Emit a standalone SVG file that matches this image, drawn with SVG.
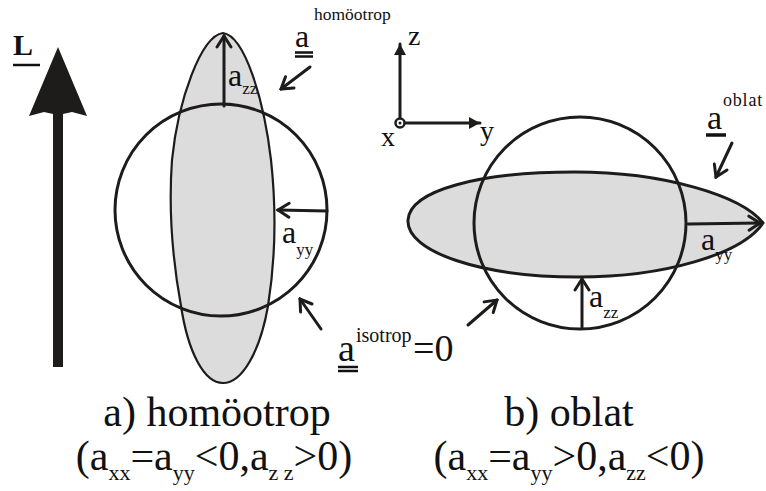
<svg xmlns="http://www.w3.org/2000/svg" width="766" height="491" viewBox="0 0 766 491">
<style>
text{font-family:'Liberation Serif','Times New Roman','DejaVu Serif',serif;fill:#111}
.ln{stroke:#1e1b1b;stroke-width:3;fill:none;stroke-linecap:round}
.ul{stroke:#111;stroke-width:2.5}
.circ{stroke:#1e1b1b;stroke-width:3;fill:none}
.ell{stroke:#1e1b1b;fill:#dcdcdc}
</style>
<defs>
<marker id="v" markerUnits="userSpaceOnUse" viewBox="-14 -9 16 18" refX="0" refY="0" markerWidth="16" markerHeight="18" orient="auto">
<path d="M-11,-7 L0,0 L-11,7" fill="none" stroke="#1e1b1b" stroke-width="3" stroke-linecap="round" stroke-linejoin="miter"/>
</marker>
<marker id="tri" markerUnits="userSpaceOnUse" viewBox="-12 -7 14 14" refX="0" refY="0" markerWidth="14" markerHeight="14" orient="auto">
<path d="M-11,-6 L0,0 L-11,6 Z" fill="#1e1b1b"/>
</marker>
</defs>

<g id="L-arrow">
<polygon points="58,47 87,116 72,112 63,114 53,114 44,112 29,116" fill="#1e1b1b"/>
<rect x="53" y="110" width="10" height="257" fill="#1e1b1b"/>
<text x="13" y="55" font-size="30" font-weight="bold" font-family="Liberation Serif, serif">L</text>
<line class="ul" x1="13" y1="65" x2="40" y2="65"/>
</g>

<g id="homoeotrop">
<path class="ell" stroke-width="2.2" d="M223,33 C245,36 264,100 271,160 C277,215 275,262 268,306 C260,352 242,383 223,383 C204,383 188,352 181,306 C173,262 168,215 172,160 C178,100 201,36 223,33 Z"/>
<circle class="circ" cx="221" cy="210" r="106"/>
</g>

<g id="oblat">
<path class="ell" stroke-width="3" d="M408,220 C410,190 480,172 575,172 C665,172 742,196 763,223 C742,254 665,277 578,277 C482,277 406,252 408,220 Z"/>
<circle class="circ" cx="580" cy="223" r="106"/>
</g>

<g id="axes">
<line class="ln" x1="400" y1="119" x2="400" y2="44" marker-end="url(#tri)"/>
<line class="ln" x1="404" y1="123" x2="480" y2="123" marker-end="url(#tri)"/>
<circle cx="400" cy="123" r="4.5" fill="#fff" stroke="#1e1b1b" stroke-width="2.5"/>
<circle cx="400" cy="123" r="1.5" fill="#1e1b1b"/>
<text x="408" y="45" font-size="28">z</text>
<text x="480" y="140" font-size="28">y</text>
<text x="381" y="146" font-size="28">x</text>
</g>

<g id="connectors">
<line class="ln" x1="224" y1="106" x2="224" y2="36" marker-end="url(#v)"/>
<line class="ln" x1="327" y1="211" x2="278" y2="210" marker-end="url(#v)"/>
<line class="ln" x1="582" y1="327" x2="582" y2="279" marker-end="url(#v)"/>
<line class="ln" x1="688" y1="224" x2="760" y2="223" marker-end="url(#v)"/>
<line class="ln" x1="310" y1="67" x2="281" y2="89" marker-end="url(#v)"/>
<line class="ln" x1="732" y1="143" x2="716" y2="177" marker-end="url(#v)"/>
<line class="ln" x1="321" y1="329" x2="300" y2="299" marker-end="url(#v)"/>
<line class="ln" x1="468" y1="325" x2="497" y2="300" marker-end="url(#v)"/>
</g>

<g id="labels">
<text x="228" y="86" font-size="32">a<tspan font-size="17" dy="8">zz</tspan></text>
<text x="282" y="243" font-size="32">a<tspan font-size="17" dy="12">yy</tspan></text>
<text x="589" y="307" font-size="32">a<tspan font-size="17" dy="11">zz</tspan></text>
<text x="701" y="250" font-size="32">a<tspan font-size="17" dy="10">yy</tspan></text>

<text x="295" y="47" font-size="32">a</text>
<line class="ul" x1="295" y1="52.5" x2="313" y2="52.5"/>
<line class="ul" x1="295" y1="56.5" x2="313" y2="56.5"/>
<text x="314" y="20" font-size="17.5">homöotrop</text>

<text x="707" y="129" font-size="34">a</text>
<line x1="706" y1="135" x2="726" y2="135" stroke="#111" stroke-width="3.5"/>
<text x="723" y="106" font-size="18" letter-spacing="0.8">oblat</text>

<text x="338" y="361" font-size="38">a</text>
<line class="ul" x1="338" y1="367" x2="358" y2="367"/>
<line class="ul" x1="338" y1="371" x2="358" y2="371"/>
<text x="356" y="342" font-size="20">isotrop</text>
<text x="413" y="361" font-size="38">=0</text>
</g>

<g id="captions">
<text x="217" y="426" font-size="42" text-anchor="middle">a) homöotrop</text>
<text x="214" y="470" font-size="42" text-anchor="middle">(a<tspan font-size="22" dy="10">xx</tspan><tspan dy="-10">=a</tspan><tspan font-size="22" dy="10">yy</tspan><tspan dy="-10">&lt;0,a</tspan><tspan font-size="22" dy="10">z z</tspan><tspan dy="-10">&gt;0)</tspan></text>
<text x="569" y="426" font-size="42" text-anchor="middle">b) oblat</text>
<text x="569" y="470" font-size="42" text-anchor="middle">(a<tspan font-size="22" dy="10">xx</tspan><tspan dy="-10">=a</tspan><tspan font-size="22" dy="10">yy</tspan><tspan dy="-10">&gt;0,a</tspan><tspan font-size="22" dy="10">zz</tspan><tspan dy="-10">&lt;0)</tspan></text>
</g>
</svg>
